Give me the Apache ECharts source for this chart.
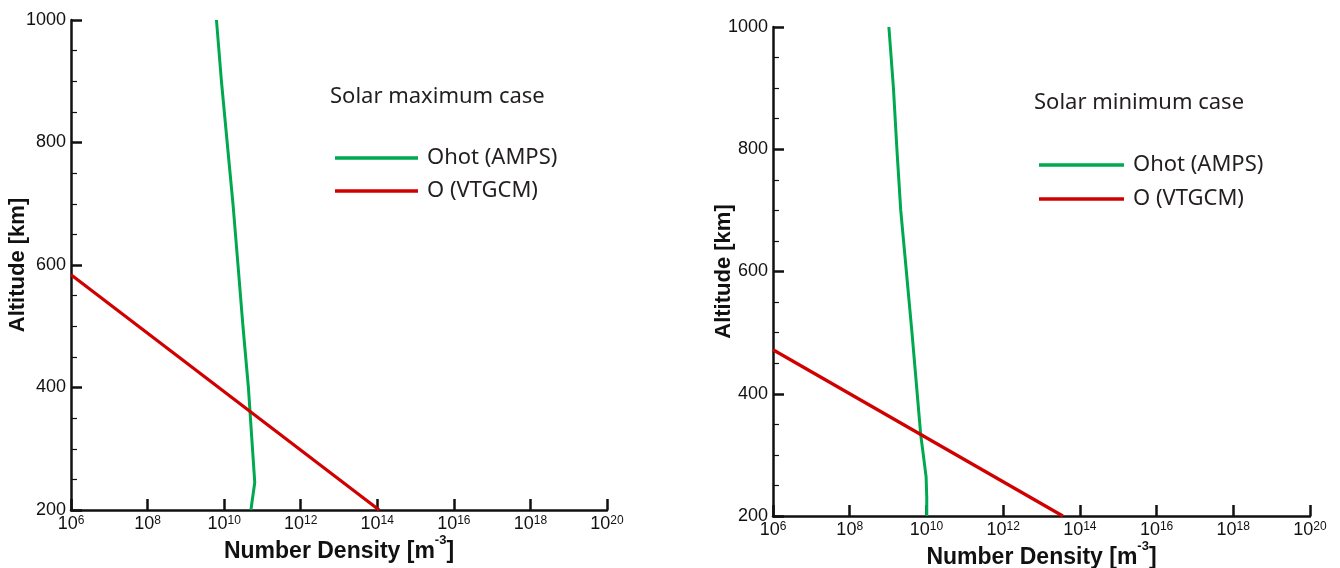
<!DOCTYPE html>
<html>
<head>
<meta charset="utf-8">
<title>Ohot density profiles</title>
<script src="https://cdn.jsdelivr.net/npm/echarts@6/dist/echarts.min.js"></script>
<style>
  html, body { margin: 0; padding: 0; background: #fff; }
  #chart { width: 1340px; height: 568px; }
</style>
</head>
<body>
<div id="chart"></div>
<script>
// solar maximum case
const altitudeMax = [1000, 900, 800, 700, 600, 500, 400, 300, 245, 200];
const ohotMax = [6.3e9, 8.5e9, 1.2e10, 1.7e10, 2.3e10, 3.1e10, 4.3e10, 5.5e10, 6.3e10, 5.0e10];
const oAltMax = [584, 200];
const oMax = [1e6, 1.12e14];

// solar minimum case
const altitudeMin = [1000, 900, 800, 700, 600, 500, 400, 333, 300, 264, 230, 200];
const ohotMin = [1.05e9, 1.38e9, 1.7e9, 2.14e9, 3.0e9, 4.2e9, 5.75e9, 7.1e9, 8.3e9, 9.8e9, 1.02e10, 1.02e10];
const oAltMin = [472, 200];
const oMin = [1e6, 3.6e13];

const seriesNames = ["Ohot (AMPS)", "O (VTGCM)"];
const caseTitles = ["Solar maximum case", "Solar minimum case"];

const GREEN = "#00a84f";
const RED = "#d10000";
const FONT = "Liberation Sans";
const TEXT_FONT = "Noto Sans";

function pairs(xs, ys) {
  return xs.map((x, i) => [x, ys[i]]);
}

function xAxisFor(idx) {
  return {
    type: "log",
    gridIndex: idx,
    logBase: 10,
    min: 1e6,
    max: 1e20,
    interval: 2,
    splitLine: { show: false },
    axisLine: { lineStyle: { color: "#111", width: 2.5 } },
    axisTick: { inside: true, length: 11, lineStyle: { color: "#111", width: 2.5 } },
    axisLabel: {
      margin: 5,
      formatter: v => "{b|10}{s|" + Math.round(Math.log10(v)) + "}",
      rich: {
        b: { fontFamily: FONT, fontSize: 18, color: "#111" },
        s: { fontFamily: FONT, fontSize: 12, color: "#111", verticalAlign: "top" }
      }
    },
    name: "{n|Number Density [m}{e|-3}{n|]}",
    nameLocation: "middle",
    nameGap: 24,
    nameMoveOverlap: false,
    nameTextStyle: {
      rich: {
        n: { fontFamily: FONT, fontSize: 23, fontWeight: "bold", color: "#111", padding: [6, 0, 0, 0] },
        e: { fontFamily: FONT, fontSize: 13, fontWeight: "bold", color: "#111", verticalAlign: "top" }
      }
    }
  };
}

function yAxisFor(idx, gap) {
  return {
    type: "value",
    gridIndex: idx,
    min: 200,
    max: 1000,
    interval: 200,
    splitLine: { show: false },
    axisLine: { lineStyle: { color: "#111", width: 2.5 } },
    axisTick: { inside: true, length: 11, lineStyle: { color: "#111", width: 2.5 } },
    minorTick: { show: true, splitNumber: 4, length: 6, lineStyle: { color: "#111", width: 1.2 } },
    axisLabel: { fontFamily: FONT, fontSize: 18, color: "#111", margin: 5, formatter: v => String(v) },
    name: "Altitude [km]",
    nameLocation: "middle",
    nameGap: gap,
    nameMoveOverlap: false,
    nameTextStyle: { fontFamily: FONT, fontSize: 22, fontWeight: "bold", color: "#111" }
  };
}

function lineSeries(name, idx, data, color, width) {
  return {
    name: name,
    type: "line",
    xAxisIndex: idx,
    yAxisIndex: idx,
    data: data,
    showSymbol: false,
    symbol: "none",
    color: color,
    lineStyle: { color: color, width: width }
  };
}

function legendFor(left, top, width, gap) {
  return {
    data: [
      { name: seriesNames[0], icon: "rect", itemStyle: { color: GREEN } },
      { name: seriesNames[1], icon: "rect", itemStyle: { color: RED } }
    ],
    orient: "vertical",
    left: left,
    top: top,
    itemWidth: width,
    itemHeight: 3.5,
    itemGap: gap,
    selectedMode: false,
    textStyle: { fontFamily: TEXT_FONT, fontSize: 22, lineHeight: 24, color: "#231f20", padding: [0, 0, 0, 4] }
  };
}

const chart = echarts.init(document.getElementById("chart"));
chart.setOption({
  animation: false,
  backgroundColor: "#fff",
  title: [
    { text: caseTitles[0], left: 325, top: 81, textStyle: { fontFamily: TEXT_FONT, fontSize: 22, fontWeight: "normal", color: "#231f20" } },
    { text: caseTitles[1], left: 1029, top: 87, textStyle: { fontFamily: TEXT_FONT, fontSize: 22, fontWeight: "normal", color: "#231f20" } }
  ],
  legend: [
    legendFor(330, 141, 83, 9),
    legendFor(1034, 148, 85, 10)
  ],
  grid: [
    { left: 71, top: 20, width: 536, height: 490, outerBoundsMode: "none" },
    { left: 773, top: 27, width: 537, height: 489, outerBoundsMode: "none" }
  ],
  xAxis: [xAxisFor(0), xAxisFor(1)],
  yAxis: [yAxisFor(0, 42), yAxisFor(1, 38)],
  series: [
    lineSeries(seriesNames[0], 0, pairs(ohotMax, altitudeMax), GREEN, 3),
    lineSeries(seriesNames[1], 0, pairs(oMax, oAltMax), RED, 3.2),
    lineSeries(seriesNames[0], 1, pairs(ohotMin, altitudeMin), GREEN, 3),
    lineSeries(seriesNames[1], 1, pairs(oMin, oAltMin), RED, 3.2)
  ]
});
</script>
</body>
</html>
